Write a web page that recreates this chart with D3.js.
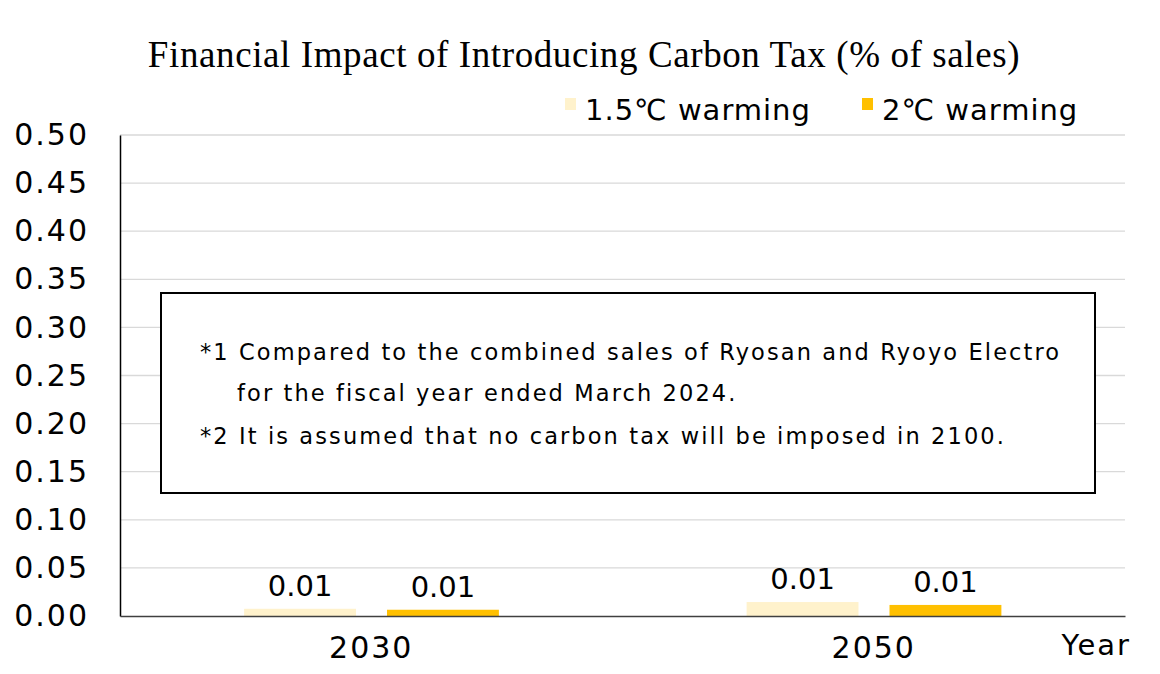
<!DOCTYPE html>
<html>
<head>
<meta charset="utf-8">
<script src="https://cdn.jsdelivr.net/npm/d3@7"></script>
<style>
  body { margin: 0; background: #fff; }
  svg { display: block; }
</style>
</head>
<body>
<div id="chart"></div>
<script>
// chart data
const years = ["2030", "2050"];
const scenarios = ["1.5℃ warming", "2℃ warming"];
const warming15 = [0.0075, 0.0145];
const warming2 = [0.0065, 0.0115];
const yTicks = [0, 0.05, 0.1, 0.15, 0.2, 0.25, 0.3, 0.35, 0.4, 0.45, 0.5];
const notes = [
  "*1 Compared to the combined sales of Ryosan and Ryoyo Electro",
  "for the fiscal year ended March 2024.",
  "*2 It is assumed that no carbon tax will be imposed in 2100."
];

const colors = ["#fff2cc", "#ffc000"];
const width = 1160, height = 674;
const margin = { top: 135, right: 35, bottom: 58, left: 120 };
const sans = "'DejaVu Sans', sans-serif";

const rows = years.map((year, i) => ({
  year,
  values: [warming15[i], warming2[i]]
}));

const svg = d3.select("#chart")
  .append("svg")
  .attr("width", width)
  .attr("height", height);

const x0 = d3.scaleBand()
  .domain(years)
  .range([margin.left, width - margin.right]);

const bw = x0.bandwidth();
const x1 = d3.scaleBand()
  .domain(scenarios)
  .range([bw * 0.247, bw * 0.754])
  .paddingInner(0.217);

const y = d3.scaleLinear()
  .domain([0, 0.5])
  .range([height - margin.bottom, margin.top]);

// gridlines
svg.append("g")
  .selectAll("line")
  .data(yTicks.slice(1))
  .join("line")
  .attr("x1", margin.left)
  .attr("x2", width - margin.right)
  .attr("y1", d => y(d))
  .attr("y2", d => y(d))
  .attr("stroke", "#d9d9d9")
  .attr("stroke-width", 1.3);

// bars
const groups = svg.append("g")
  .selectAll("g")
  .data(rows)
  .join("g")
  .attr("transform", d => `translate(${x0(d.year)},0)`);

groups.selectAll("rect")
  .data(d => d.values.map((v, i) => ({ key: scenarios[i], v, i })))
  .join("rect")
  .attr("x", d => x1(d.key))
  .attr("y", d => y(d.v))
  .attr("width", x1.bandwidth())
  .attr("height", d => y(0) - y(d.v))
  .attr("fill", d => colors[d.i]);

groups.selectAll("text")
  .data(d => d.values.map((v, i) => ({ key: scenarios[i], v })))
  .join("text")
  .attr("x", d => x1(d.key) + x1.bandwidth() / 2)
  .attr("y", d => y(d.v) - 13)
  .attr("text-anchor", "middle")
  .attr("font-family", sans)
  .attr("font-size", 29)
  .attr("fill", "#000")
  .text(d => d3.format(".2f")(d.v));

// y axis
const yAxis = svg.append("g")
  .attr("transform", `translate(${margin.left},0)`)
  .call(d3.axisLeft(y).tickValues(yTicks).tickFormat(d3.format(".2f")).tickSize(0).tickPadding(31));
yAxis.select(".domain").attr("stroke", "#000").attr("stroke-width", 1.5);
yAxis.selectAll("text")
  .attr("font-family", sans)
  .attr("font-size", 30)
  .attr("letter-spacing", 2)
  .attr("fill", "#000");

// x axis
const xAxis = svg.append("g")
  .attr("transform", `translate(0,${y(0)})`)
  .call(d3.axisBottom(x0).tickSize(0).tickPadding(21));
xAxis.select(".domain").attr("stroke", "#404040").attr("stroke-width", 1.5);
xAxis.selectAll("text")
  .attr("font-family", sans)
  .attr("font-size", 30)
  .attr("letter-spacing", 2)
  .attr("fill", "#000");

svg.append("text")
  .attr("x", 1131)
  .attr("y", 655)
  .attr("text-anchor", "end")
  .attr("font-family", sans)
  .attr("font-size", 29)
  .attr("letter-spacing", 2)
  .text("Year");

// title
svg.append("text")
  .attr("x", 584)
  .attr("y", 67)
  .attr("text-anchor", "middle")
  .attr("font-family", "'Liberation Serif', serif")
  .attr("font-size", 37)
  .attr("letter-spacing", 0.6)
  .text("Financial Impact of Introducing Carbon Tax (% of sales)");

// legend
const legendX = [565, 862];
const legend = svg.append("g")
  .selectAll("g")
  .data(scenarios)
  .join("g")
  .attr("transform", (d, i) => `translate(${legendX[i]},0)`);
legend.append("rect")
  .attr("x", 0).attr("y", 98)
  .attr("width", 11).attr("height", 12)
  .attr("fill", (d, i) => colors[i]);
legend.append("text")
  .attr("x", 20).attr("y", 120)
  .attr("font-family", sans)
  .attr("font-size", 29)
  .attr("letter-spacing", 1)
  .text(d => d);

// notes box
svg.append("rect")
  .attr("x", 161).attr("y", 293)
  .attr("width", 934).attr("height", 200)
  .attr("fill", "#fff")
  .attr("stroke", "#000")
  .attr("stroke-width", 2);

const noteX = [200, 237, 200];
const noteY = [360, 401, 444];
svg.append("g")
  .selectAll("text")
  .data(notes)
  .join("text")
  .attr("x", (d, i) => noteX[i])
  .attr("y", (d, i) => noteY[i])
  .attr("font-family", sans)
  .attr("font-size", 22.5)
  .attr("letter-spacing", 2.1)
  .attr("fill", "#000")
  .text(d => d);
</script>
</body>
</html>
